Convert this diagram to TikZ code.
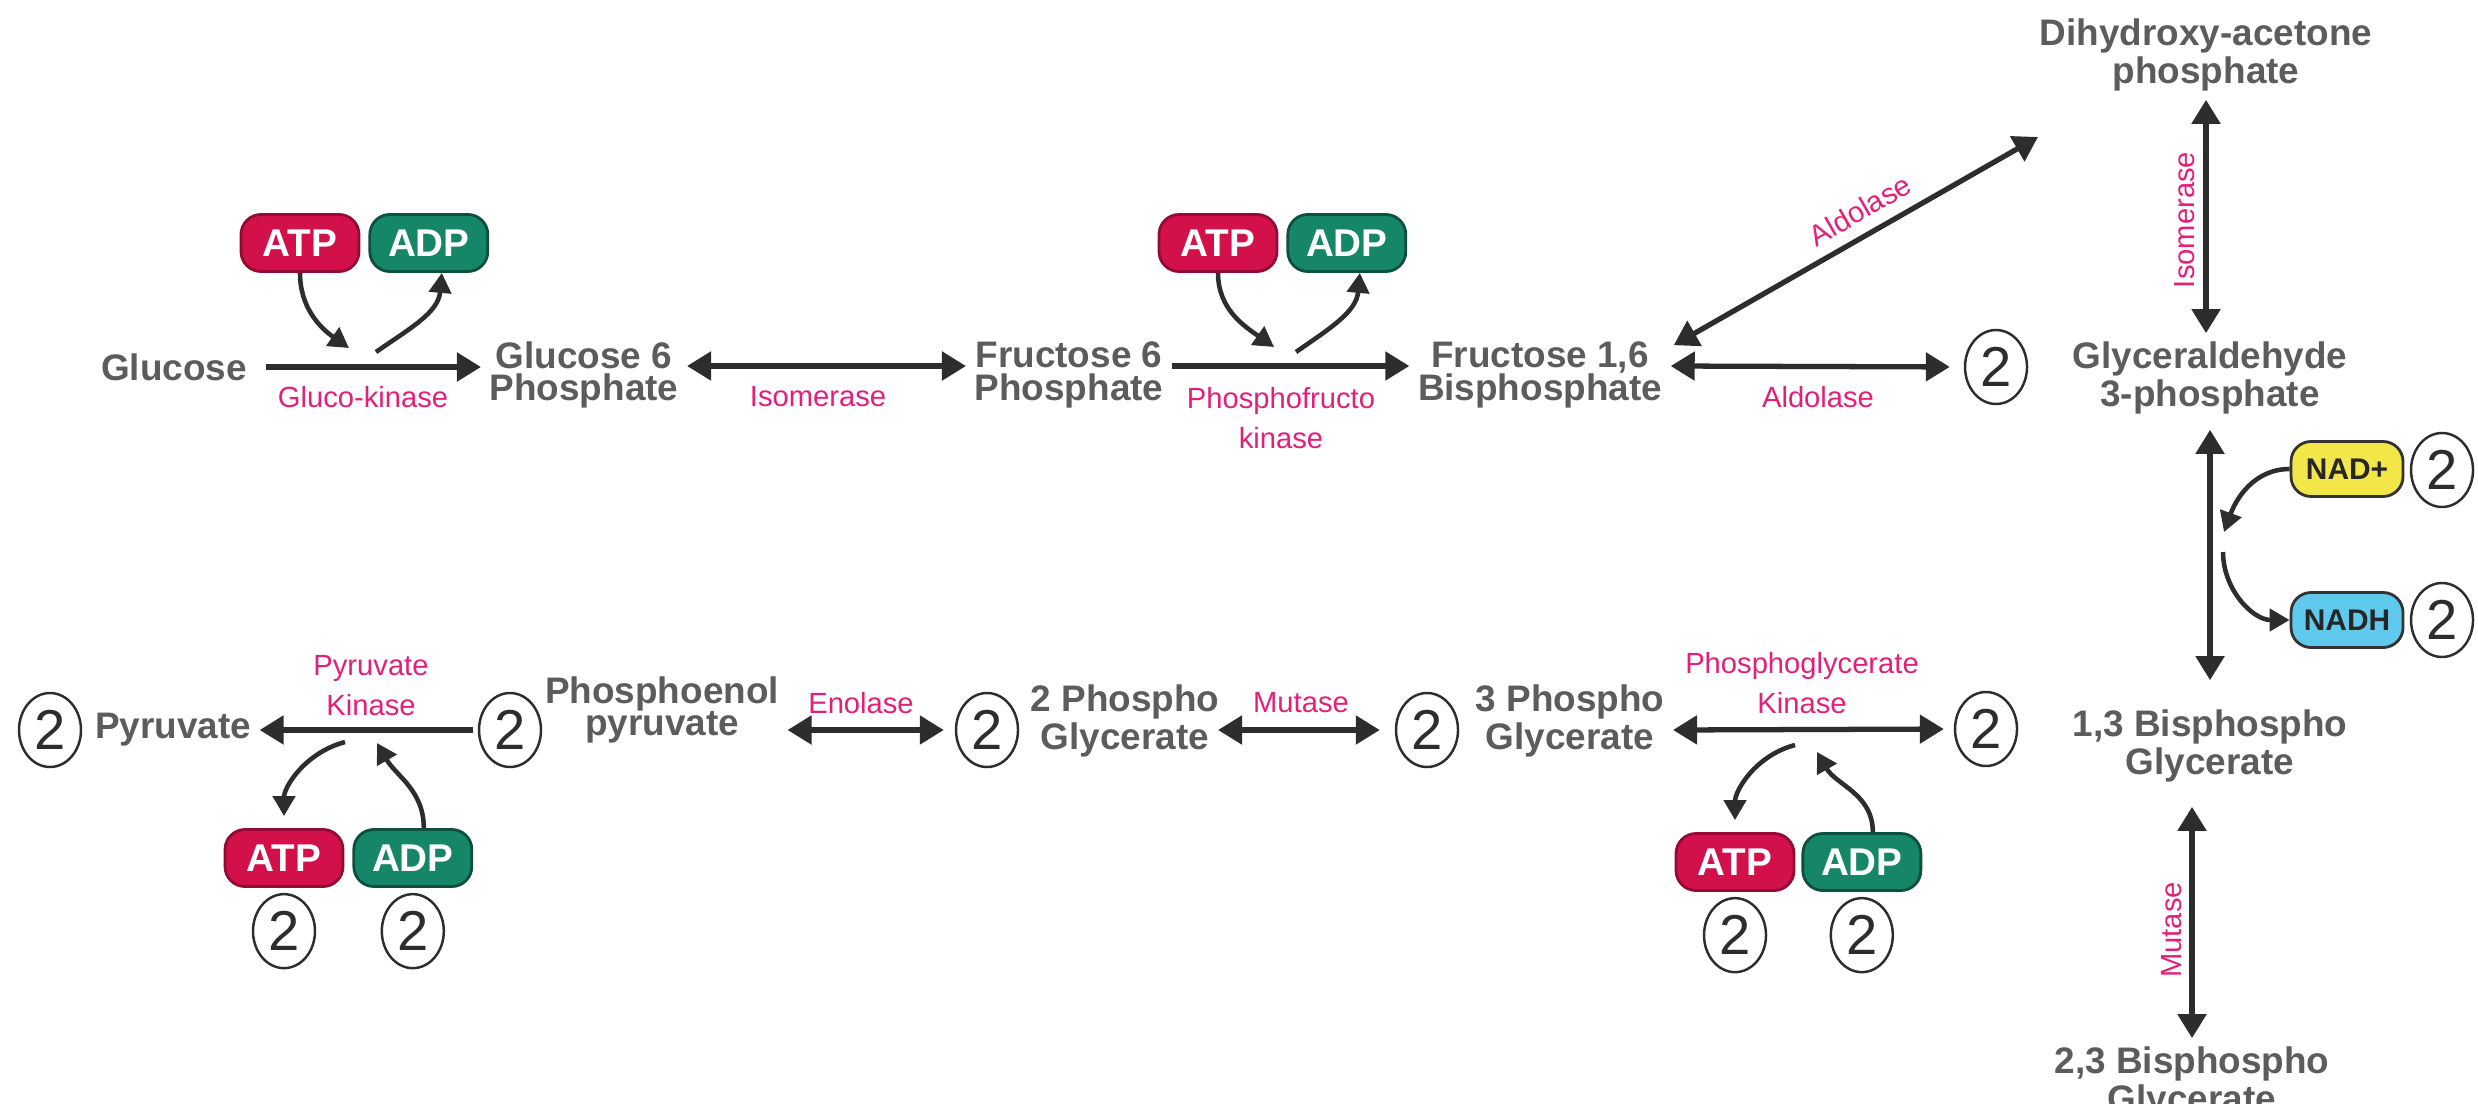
\documentclass[tikz,border=0pt]{standalone}
\usepackage{fontspec}
\setmainfont{Liberation Sans}
\usepackage{xcolor}
\usepackage{tikz}
\usetikzlibrary{shapes,arrows,positioning,calc,arrows.meta}

\definecolor{metgray}{RGB}{92,92,92}
\definecolor{enzpink}{RGB}{226,32,122}
\definecolor{arrgray}{RGB}{45,45,45}
\definecolor{atpred}{RGB}{210,16,74}
\definecolor{adpgreen}{RGB}{22,134,104}
\definecolor{nadyellow}{RGB}{242,230,72}
\definecolor{nadhblue}{RGB}{96,202,238}

\begin{document}
\begin{tikzpicture}[
    met/.style={font=\bfseries\fontsize{10.5}{9.3}\selectfont, text=metgray, align=center, inner sep=0.08cm},
    enz/.style={font=\fontsize{8.3}{11.4}\selectfont, text=enzpink, align=center, inner sep=0},
    pill/.style={rounded corners=0.2cm, minimum width=1.18cm, minimum height=0.57cm, inner sep=0,
        font=\bfseries\fontsize{11}{11}\selectfont, text=white, line width=0.8pt},
    atp/.style={pill, fill=atpred, draw=atpred!70!black},
    adp/.style={pill, fill=adpgreen, draw=adpgreen!60!black},
    nadbox/.style={pill, minimum width=1.12cm, minimum height=0.55cm,
        font=\bfseries\fontsize{8.5}{8.5}\selectfont, text=black!85, draw=black!80},
    two/.style={draw=arrgray, ellipse, minimum width=0.62cm, minimum height=0.74cm, inner sep=0,
        font=\fontsize{16}{16}\selectfont, text=arrgray, line width=0.7pt},
    arr/.style={draw=arrgray, line width=1.5pt, -{Triangle[length=0.24cm,width=0.28cm]}},
    darr/.style={arr, {Triangle[length=0.24cm,width=0.28cm]}-{Triangle[length=0.24cm,width=0.28cm]}},
    curv/.style={draw=arrgray, line width=1.3pt, -{Triangle[length=0.2cm,width=0.22cm]}}
]
    \clip (0,0) rectangle (24.78,-11.03);

    % Top row
    \node[met] (glc) at (1.74, -3.67) {Glucose};
    \node[met] (g6p) at (5.84, -3.75) {Glucose 6\\Phosphate};
    \node[met] (f6p) at (10.69, -3.75) {Fructose 6\\Phosphate};
    \node[met] (f16bp) at (15.40, -3.75) {Fructose 1,6\\Bisphosphate};
    \node[two] (c1) at (19.96, -3.67) {2};
    \node[met] (gap) at (22.10, -3.78) {Glyceraldehyde\\3-phosphate};
    \node[met] (dhap) at (22.06, -0.55) {Dihydroxy-acetone\\phosphate};

    \node[atp] (atp1) at (3.00, -2.43) {ATP};
    \node[adp, right=0.08cm of atp1] (adp1) {ADP};
    \node[atp] (atp2) at (12.18, -2.43) {ATP};
    \node[adp, right=0.08cm of atp2] (adp2) {ADP};

    \coordinate (k1a) at (3.49, -3.48);
    \coordinate (k1b) at (3.76, -3.52);
    \coordinate (k2a) at (12.74, -3.47);
    \coordinate (k2b) at (12.96, -3.52);
    \coordinate (dtip) at (20.38, -1.37);

    \draw[arr, shorten <=0.1cm] (glc.east) -- (glc.east -| g6p.west);
    \draw[darr] ([yshift=0.09cm]g6p.east) -- ([yshift=0.09cm]f6p.west);
    \draw[arr] ([yshift=0.09cm]f6p.east) -- ([yshift=0.09cm]f16bp.west);
    \draw[darr, shorten >=0.14cm] ([yshift=0.09cm]f16bp.east) -- (c1.west);
    \draw[darr] ([shift={(0.03,-0.12)}]f16bp.north east) -- (dtip);
    \draw[darr] (dhap.south) -- (dhap.south |- gap.north);

    \draw[curv] (atp1.south) to[out=-90, in=145] (k1a);
    \draw[curv] (k1b) to[out=35, in=-95] ([xshift=0.13cm]adp1.south);
    \draw[curv] (atp2.south) to[out=-90, in=145] (k2a);
    \draw[curv] (k2b) to[out=35, in=-95] ([xshift=0.13cm]adp2.south);

    \node[enz] (e1) at (3.63, -3.97) {Gluco-kinase};
    \node[enz] (e2) at (8.18, -3.97) {Isomerase};
    \node[enz] (e3) at (12.81, -4.18) {Phosphofructo\\kinase};
    \node[enz] (e4) at (18.18, -3.97) {Aldolase};
    \node[enz, rotate=30] (e5) at (18.60, -2.10) {Aldolase};
    \node[enz, rotate=90] (e6) at (21.85, -2.20) {Isomerase};

    % Right column
    \node[nadbox, fill=nadyellow] (nad) at (23.47, -4.69) {NAD+};
    \node[two] (cn1) at (24.42, -4.70) {2};
    \node[nadbox, fill=nadhblue] (nadh) at (23.47, -6.20) {NADH};
    \node[two] (cn2) at (24.42, -6.20) {2};
    \node[met] (bpg13) at (22.10, -7.46) {1,3 Bisphospho\\Glycerate};
    \node[two] (c2) at (19.86, -7.29) {2};
    \node[met] (bpg23) at (21.92, -10.83) {2,3 Bisphospho\\Glycerate};

    \coordinate (k3a) at (22.24, -5.32);
    \coordinate (k3b) at (22.23, -5.52);

    \draw[darr, shorten <=0.07cm, shorten >=0.21cm] (gap.south) -- (gap.south |- bpg13.north);
    \draw[darr, shorten <=0.16cm] (bpg13.south -| bpg23.north) -- (bpg23.north);
    \draw[curv] (nad.west) to[out=180, in=70] (k3a);
    \draw[curv] (k3b) to[out=-90, in=180] (nadh.west);

    \node[enz, rotate=90] (e7) at (21.72, -9.30) {Mutase};

    % Bottom row
    \node[met] (pg3) at (15.70, -7.21) {3 Phospho\\Glycerate};
    \node[two] (c3) at (14.27, -7.30) {2};
    \node[met] (pg2) at (11.25, -7.21) {2 Phospho\\Glycerate};
    \node[two] (c4) at (9.87, -7.30) {2};
    \node[met] (pep) at (6.62, -7.10) {Phosphoenol\\pyruvate};
    \node[two] (c5) at (5.10, -7.30) {2};
    \node[met] (pyr) at (1.73, -7.30) {Pyruvate};
    \node[two] (c6) at (0.50, -7.30) {2};

    \node[atp] (atp3) at (2.84, -8.58) {ATP};
    \node[adp, right=0.08cm of atp3] (adp3) {ADP};
    \node[two, below=0.05cm of atp3] (c7) {2};
    \node[two, below=0.05cm of adp3] (c8) {2};
    \node[atp] (atp4) at (17.35, -8.62) {ATP};
    \node[adp, right=0.06cm of atp4] (adp4) {ADP};
    \node[two, below=0.05cm of atp4] (c9) {2};
    \node[two, below=0.05cm of adp4] (c10) {2};

    \coordinate (k4a) at (3.45, -7.42);
    \coordinate (k4b) at (3.77, -7.43);
    \coordinate (k5a) at (17.95, -7.45);
    \coordinate (k5b) at (18.17, -7.52);

    \draw[darr, shorten >=0.1cm] ([yshift=-0.09cm]pg3.east) -- (c2.west);
    \draw[darr, shorten >=0.15cm] ([shift={(-0.1,-0.09)}]pg2.east) -- (c3.west);
    \draw[darr, shorten >=0.11cm] ([yshift=-0.2cm]pep.east) -- (c4.west);
    \draw[arr, shorten <=0.05cm] (c5.west) -- (pyr.east);

    \draw[curv, shorten >=0.12cm] (k4a) to[out=195, in=90] (atp3.north);
    \draw[curv] ([xshift=0.11cm]adp3.north) to[out=90, in=-60] (k4b);
    \draw[curv, shorten >=0.12cm] (k5a) to[out=195, in=90] (atp4.north);
    \draw[curv] ([xshift=0.11cm]adp4.north) to[out=90, in=-60] (k5b);

    \node[enz] (e8) at (3.71, -6.86) {Pyruvate\\Kinase};
    \node[enz] (e9) at (8.61, -7.03) {Enolase};
    \node[enz] (e10) at (13.01, -7.03) {Mutase};
    \node[enz] (e11) at (18.02, -6.83) {Phosphoglycerate\\Kinase};
\end{tikzpicture}
\end{document}
